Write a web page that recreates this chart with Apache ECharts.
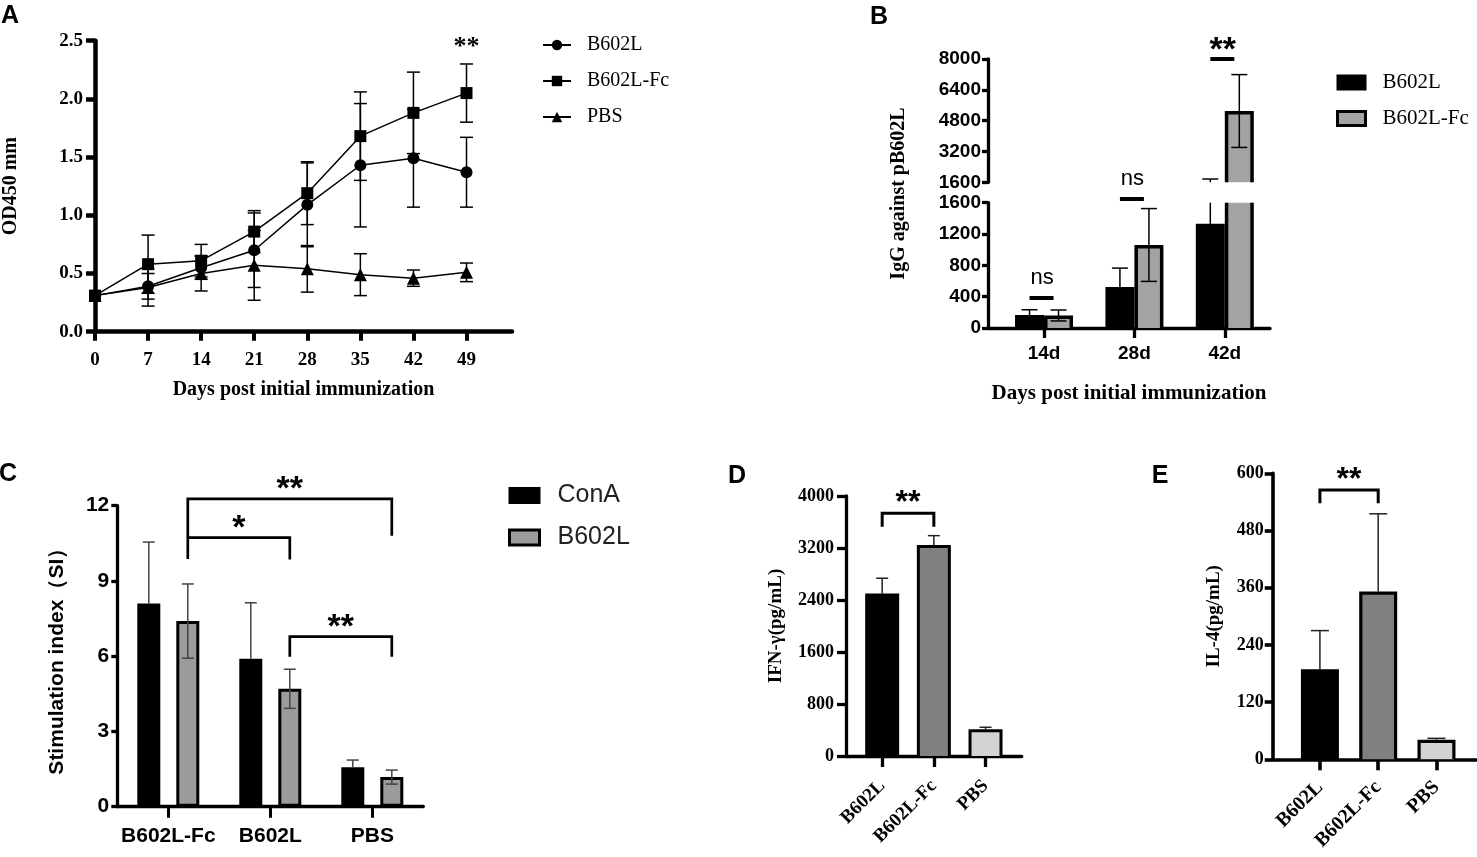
<!DOCTYPE html>
<html><head><meta charset="utf-8">
<script src="https://cdn.jsdelivr.net/npm/echarts@6/dist/echarts.min.js"></script>
<style>html,body{margin:0;padding:0;background:#fff}#c{width:1477px;height:857px}</style>
</head><body><div id="c"></div>
<script>
// ---------- Panel A data ----------
const daysA = [0, 7, 14, 21, 28, 35, 42, 49];
const aB602L = [0.31, 0.39, 0.55, 0.70, 1.09, 1.43, 1.49, 1.37];
const aB602LErr = [0, 0.11, 0.10, 0.32, 0.36, 0.53, 0.42, 0.30];
const aFc = [0.31, 0.58, 0.61, 0.86, 1.19, 1.68, 1.88, 2.05];
const aFcErr = [0, 0.25, 0.14, 0.18, 0.27, 0.38, 0.35, 0.25];
const aPBS = [0.31, 0.38, 0.50, 0.57, 0.54, 0.49, 0.46, 0.51];
const aPBSErr = [0, 0.16, 0.15, 0.30, 0.20, 0.18, 0.07, 0.08];
const aXTicks = [0, 7, 14, 21, 28, 35, 42, 49];
const aSig = { day: 49, y: 2.48, text: '**' };
// ---------- Panel B data ----------
const bCats = ['14d', '28d', '42d'];
const bB602L = [165, 525, 1330];
const bB602LErr = [68, 240, 440];
const bFc = [160, 1060, 5300];
const bFcErr = [70, 465, 1890];
const bSig = ['ns', 'ns', '**'];
const bSigY = [383, 1647, 8000];
const bSigPart = ['lower', 'lower', 'upper'];
// ---------- Panel C data ----------
const cCats = ['B602L-Fc', 'B602L', 'PBS'];
const cConA = [8.1, 5.9, 1.57];
const cConAErr = [2.45, 2.23, 0.29];
const cB602L = [7.4, 4.7, 1.18];
const cB602LErr = [1.48, 0.78, 0.28];
// brackets: [fromCat, toCat, y, yLeftEnd, yRightEnd, label]
const cBrackets = [[0, 2, 12.27, 9.88, 10.8, '**'], [0, 1, 10.73, 10.73, 9.86, '*'], [1, 2, 6.78, 5.98, 5.98, '**']];
// ---------- Panel D data ----------
const dCats = ['B602L', 'B602L-Fc', 'PBS'];
const dIFN = [2500, 3245, 410];
const dIFNErr = [235, 145, 32];
const dBrackets = [[0, 1, 3734, 3528, 3528, '**']];
// ---------- Panel E data ----------
const eCats = ['B602L', 'B602L-Fc', 'PBS'];
const eIL4 = [189, 352, 41];
const eIL4Err = [81, 163, 3];
const eBrackets = [[0, 1, 565, 537, 537, '**']];

// ---------- styles ----------
const SANS = "'Liberation Sans', Arial, Helvetica, sans-serif";
const SERIF = "'Liberation Serif', 'Times New Roman', Times, serif";
const groupColors = ['#000000', '#808080', '#d3d3d3'];
const bGray = '#a3a3a3';
const cGray = '#9b9b9b';
const plain = v => String(v);

const chart = echarts.init(document.getElementById('c'), null, { renderer: 'canvas', width: 1477, height: 857 });
const strip = n => n.split('|')[1];

function errRender(o) {
  return function (params, api) {
    const x = api.value(0), v = api.value(1), e = api.value(2);
    if (!(e > 0)) return null;
    const lo = o.upOnly ? v : v - e, hi = v + e;
    const mn = o.min, mx = o.max;
    if (mn != null && hi <= mn) return null;
    if (mx != null && lo >= mx) return null;
    const loC = mn != null ? Math.max(lo, mn) : lo;
    const hiC = mx != null ? Math.min(hi, mx) : hi;
    const pLo = api.coord([x, loC]), pHi = api.coord([x, hiC]);
    const cx = pLo[0] + (o.off || 0);
    const st = { stroke: o.color || '#000', lineWidth: o.lw };
    const ch = [{ type: 'line', shape: { x1: cx, y1: pLo[1], x2: cx, y2: pHi[1] }, style: st }];
    if (mx == null || hi <= mx) ch.push({ type: 'line', shape: { x1: cx - o.cap, y1: pHi[1], x2: cx + o.cap, y2: pHi[1] }, style: st });
    if (!o.upOnly && (mn == null || lo >= mn)) ch.push({ type: 'line', shape: { x1: cx - o.cap, y1: pLo[1], x2: cx + o.cap, y2: pLo[1] }, style: st });
    return { type: 'group', children: ch };
  };
}

function barRender(o) {
  return function (params, api) {
    const x = api.value(0), v = api.value(1);
    if (!(v > o.min)) return null;
    const clipped = v > o.max;
    const top = clipped ? o.max : v;
    const pB = api.coord([x, o.min]), pT = api.coord([x, top]);
    const cx = pB[0] + o.off;
    const h = o.lw / 2, xl = cx - o.w / 2 + h, xr = cx + o.w / 2 - h;
    const yb = pB[1], yt = clipped ? pT[1] : pT[1] + h;
    const fill = o.colors ? o.colors[params.dataIndex] : o.color;
    const st = { stroke: '#000', lineWidth: o.lw, fill: 'none' };
    const ch = [{ type: 'rect', shape: { x: xl, y: yt, width: xr - xl, height: yb - yt }, style: { fill: fill } }];
    if (clipped) {
      ch.push({ type: 'polyline', shape: { points: [[xl, yb], [xl, yt]] }, style: st });
      ch.push({ type: 'polyline', shape: { points: [[xr, yb], [xr, yt]] }, style: st });
    } else {
      ch.push({ type: 'polyline', shape: { points: [[xl, yb], [xl, yt], [xr, yt], [xr, yb]] }, style: st });
    }
    return { type: 'group', children: ch };
  };
}

function yAx(grid, min, max, interval, o) {
  return Object.assign({
    gridIndex: grid, type: 'value', min: min, max: max, interval: interval,
    axisLine: { show: true, onZero: false, lineStyle: { color: '#000', width: o.lw } },
    axisTick: { show: true, length: o.tick, lineStyle: { color: '#000', width: o.lw } },
    axisLabel: { margin: o.margin, color: '#000', fontFamily: o.ff, fontWeight: o.fw || 'bold', fontSize: o.fs, formatter: o.fmt || plain },
    splitLine: { show: false }
  }, o.extra || {});
}
function xValAx(grid, min, max, cats, o) {
  const tv = cats.map((c, i) => i);
  return Object.assign({
    gridIndex: grid, type: 'value', min: min, max: max,
    axisLine: { show: true, onZero: false, lineStyle: { color: '#000', width: o.lw } },
    axisTick: { show: true, customValues: tv, length: o.tick, lineStyle: { color: '#000', width: o.lw } },
    axisLabel: { customValues: tv, margin: o.margin, rotate: o.rotate || 0, color: '#000', fontFamily: o.ff, fontWeight: 'bold', fontSize: o.fs, formatter: v => cats[Math.round(v)] },
    splitLine: { show: false }
  }, o.extra || {});
}

const grids = [
  { left: 93.3, top: 40.7, width: 418.7, height: 291 },   // 0 A
  { left: 988, top: 59, width: 282, height: 123.3 },      // 1 B upper
  { left: 988, top: 202.7, width: 282, height: 125.3 },   // 2 B lower
  { left: 117.3, top: 505.7, width: 306, height: 301 },   // 3 C
  { left: 846, top: 496, width: 175.7, height: 260 },     // 4 D
  { left: 1272.7, top: 473.3, width: 204, height: 286 }   // 5 E
];

const titleSerif = { fontFamily: SERIF, fontWeight: 'bold', color: '#000' };

const xAxes = [
  {
    gridIndex: 0, type: 'value', min: 0, max: 55,
    axisLine: { show: true, onZero: false, lineStyle: { color: '#000', width: 4.5 } },
    axisTick: { show: true, customValues: aXTicks, length: 9, lineStyle: { color: '#000', width: 4 } },
    axisLabel: { customValues: aXTicks, margin: 19, color: '#000', fontFamily: SERIF, fontWeight: 'bold', fontSize: 19 },
    splitLine: { show: false },
    name: 'Days post initial immunization', nameLocation: 'middle', nameGap: 48,
    nameTextStyle: Object.assign({ fontSize: 20 }, titleSerif)
  },
  { gridIndex: 1, type: 'value', min: -0.62, max: 2.5, show: false },
  xValAx(2, -0.62, 2.5, bCats, { lw: 3.3, tick: 10, margin: 16, ff: SANS, fs: 19, extra: {
    name: 'Days post initial immunization', nameLocation: 'middle', nameGap: 55,
    nameTextStyle: Object.assign({ fontSize: 21 }, titleSerif) } }),
  {
    gridIndex: 3, type: 'category', data: cCats, boundaryGap: true,
    axisLine: { show: true, onZero: false, lineStyle: { color: '#000', width: 3.3 } },
    axisTick: { show: true, alignWithLabel: true, length: 11, lineStyle: { color: '#000', width: 3 } },
    axisLabel: { interval: 0, margin: 19, color: '#000', fontFamily: SANS, fontWeight: 'bold', fontSize: 21 }
  },
  xValAx(4, -0.7, 2.7, dCats, { lw: 3.3, tick: 11, margin: 27, rotate: 45, ff: SERIF, fs: 19 }),
  xValAx(5, -0.81, 2.69, eCats, { lw: 3.6, tick: 11, margin: 25, rotate: 45, ff: SERIF, fs: 20 })
];

const yAxes = [
  yAx(0, 0, 2.5, 0.5, { lw: 4.5, tick: 9, margin: 12, ff: SERIF, fs: 19, fmt: v => v.toFixed(1), extra: {
    name: 'OD450 mm', nameLocation: 'middle', nameRotate: 90, nameGap: 74,
    nameTextStyle: Object.assign({ fontSize: 20 }, titleSerif) } }),
  yAx(1, 1600, 8000, 1600, { lw: 3.3, tick: 6, margin: 7, ff: SANS, fs: 19 }),
  yAx(2, 0, 1600, 400, { lw: 3.3, tick: 6, margin: 7, ff: SANS, fs: 19 }),
  yAx(3, 0, 12, 3, { lw: 3.3, tick: 6, margin: 8, ff: SANS, fs: 21, extra: {
    name: 'Stimulation index（SI）', nameLocation: 'middle', nameRotate: 90, nameGap: 50,
    nameTextStyle: { fontFamily: SANS, fontWeight: 'bold', fontSize: 21, color: '#000' } } }),
  yAx(4, 0, 4000, 800, { lw: 3.3, tick: 9, margin: 12, ff: SERIF, fs: 18, extra: {
    name: 'IFN-γ(pg/mL)', nameLocation: 'middle', nameRotate: 90, nameGap: 60,
    nameTextStyle: Object.assign({ fontSize: 19 }, titleSerif) } }),
  yAx(5, 0, 600, 120, { lw: 3.6, tick: 8, margin: 9, ff: SERIF, fs: 18, extra: {
    name: 'IL-4(pg/mL)', nameLocation: 'middle', nameRotate: 90, nameGap: 49,
    nameTextStyle: Object.assign({ fontSize: 19 }, titleSerif) } })
];

const series = [];
// Panel A
const aSets = [
  ['A|B602L', aB602L, aB602LErr, 'circle', 12],
  ['A|B602L-Fc', aFc, aFcErr, 'rect', 12],
  ['A|PBS', aPBS, aPBSErr, 'triangle', 13]
];
aSets.forEach(s => {
  series.push({
    type: 'custom', xAxisIndex: 0, yAxisIndex: 0, z: 2,
    renderItem: errRender({ cap: 6.5, lw: 1.5 }),
    data: daysA.map((d, i) => [d, s[1][i], s[2][i]])
  });
});
aSets.forEach(s => {
  series.push({
    name: s[0], type: 'line', xAxisIndex: 0, yAxisIndex: 0, z: 3,
    symbol: s[3], symbolSize: s[4], showSymbol: true,
    lineStyle: { color: '#000', width: 1.5 }, itemStyle: { color: '#000' },
    data: daysA.map((d, i) => [d, s[1][i]])
  });
});
// Panel B (broken axis: upper grid 1, lower grid 2)
[[1, 1600, 8000], [2, 0, 1600]].forEach(g => {
  const [gi, mn, mx] = g;
  series.push({
    name: 'B|B602L', type: 'custom', xAxisIndex: gi, yAxisIndex: gi, z: 2, itemStyle: { color: '#000' },
    renderItem: barRender({ w: 29, lw: 3.5, off: -14.5, min: mn, max: mx, color: '#000' }),
    data: bCats.map((c, i) => [i, bB602L[i]])
  });
  series.push({
    name: 'B|B602L-Fc', type: 'custom', xAxisIndex: gi, yAxisIndex: gi, z: 2, itemStyle: { color: bGray },
    renderItem: barRender({ w: 29, lw: 3.5, off: 14.5, min: mn, max: mx, color: bGray }),
    data: bCats.map((c, i) => [i, bFc[i]])
  });
  series.push({
    type: 'custom', xAxisIndex: gi, yAxisIndex: gi, z: 3,
    renderItem: errRender({ cap: 8, lw: 1.5, off: -14.5, min: mn, max: mx }),
    data: bCats.map((c, i) => [i, bB602L[i], bB602LErr[i]])
  });
  series.push({
    type: 'custom', xAxisIndex: gi, yAxisIndex: gi, z: 3,
    renderItem: errRender({ cap: 8, lw: 1.5, off: 14.5, min: mn, max: mx }),
    data: bCats.map((c, i) => [i, bFc[i], bFcErr[i]])
  });
});
// Panel C
series.push({
  name: 'C|ConA', type: 'bar', xAxisIndex: 3, yAxisIndex: 3, barWidth: 23, barGap: '69.6%', z: 2,
  itemStyle: { color: '#000', borderColor: '#000', borderWidth: 3 }, data: cConA
});
series.push({
  name: 'C|B602L', type: 'bar', xAxisIndex: 3, yAxisIndex: 3, barWidth: 23, barGap: '69.6%', z: 2,
  itemStyle: { color: cGray, borderColor: '#000', borderWidth: 3 }, data: cB602L
});
series.push({
  type: 'custom', xAxisIndex: 3, yAxisIndex: 3, z: 3,
  renderItem: errRender({ cap: 6, lw: 1.5, off: -19.5, upOnly: true, color: '#444' }),
  data: cCats.map((c, i) => [i, cConA[i], cConAErr[i]])
});
series.push({
  type: 'custom', xAxisIndex: 3, yAxisIndex: 3, z: 3,
  renderItem: errRender({ cap: 6, lw: 1.5, off: 19.5, color: '#444' }),
  data: cCats.map((c, i) => [i, cB602L[i], cB602LErr[i]])
});
// Panel D
series.push({
  name: 'IFN-γ', type: 'custom', xAxisIndex: 4, yAxisIndex: 4, z: 2,
  renderItem: barRender({ w: 34, lw: 3, off: 0, min: 0, max: 4000, colors: groupColors }),
  data: dCats.map((c, i) => [i, dIFN[i]])
});
series.push({
  type: 'custom', xAxisIndex: 4, yAxisIndex: 4, z: 1,
  renderItem: errRender({ cap: 6, lw: 1.5, upOnly: true, color: '#222' }),
  data: dCats.map((c, i) => [i, dIFN[i], dIFNErr[i]])
});
// Panel E
series.push({
  name: 'IL-4', type: 'custom', xAxisIndex: 5, yAxisIndex: 5, z: 2,
  renderItem: barRender({ w: 38, lw: 3.2, off: 0, min: 0, max: 600, colors: groupColors }),
  data: eCats.map((c, i) => [i, eIL4[i]])
});
series.push({
  type: 'custom', xAxisIndex: 5, yAxisIndex: 5, z: 1,
  renderItem: errRender({ cap: 9, lw: 1.5, upOnly: true, color: '#222' }),
  data: eCats.map((c, i) => [i, eIL4[i], eIL4Err[i]])
});

const legends = [
  {
    left: 537, top: 30, orient: 'vertical', itemWidth: 28, itemHeight: 13, itemGap: 16,
    data: ['A|B602L', 'A|B602L-Fc', 'A|PBS'], formatter: strip, selectedMode: false,
    textStyle: { fontFamily: SERIF, fontSize: 20, color: '#000', lineHeight: 20, padding: [0, 0, 0, 11] }
  },
  {
    left: 1331, top: 67, orient: 'vertical', itemWidth: 28, itemHeight: 14, itemGap: 15,
    selectedMode: false, formatter: strip,
    data: [
      { name: 'B|B602L', icon: 'rect', itemStyle: { color: '#000', borderColor: '#000', borderWidth: 2 } },
      { name: 'B|B602L-Fc', icon: 'rect', itemStyle: { color: bGray, borderColor: '#000', borderWidth: 3 } }
    ],
    textStyle: { fontFamily: SERIF, fontSize: 21, color: '#000', lineHeight: 20, padding: [0, 0, 0, 12] }
  },
  {
    left: 503, top: 478, orient: 'vertical', itemWidth: 30, itemHeight: 15, itemGap: 17,
    selectedMode: false, formatter: strip,
    data: [
      { name: 'C|ConA', icon: 'rect', itemStyle: { color: '#000', borderColor: '#000', borderWidth: 2 } },
      { name: 'C|B602L', icon: 'rect', itemStyle: { color: cGray, borderColor: '#000', borderWidth: 3 } }
    ],
    textStyle: { fontFamily: SANS, fontSize: 25, color: '#222', lineHeight: 25, padding: [0, 0, 0, 13] }
  }
];

chart.setOption({
  animation: false,
  backgroundColor: '#fff',
  grid: grids,
  xAxis: xAxes,
  yAxis: yAxes,
  legend: legends,
  series: series
});

// ---------- annotations (positioned through the axes' scales) ----------
const px = (g, p) => chart.convertToPixel({ gridIndex: g }, p);
const gfx = [];
function txt(x, y, t, size, ff, fw, rot) {
  gfx.push({ type: 'text', x: x, y: y, rotation: rot || 0, z: 100,
    style: { text: t, fill: '#000', fontSize: size, fontFamily: ff, fontWeight: fw, align: 'center', verticalAlign: 'middle' } });
}
function sigText(x, inkY, t, size, ff) {
  const k = t.indexOf('*') >= 0 ? (ff === SERIF ? 0.18 : 0.23) : -0.09;
  txt(x, inkY + k * size, t, size, ff, t.indexOf('*') >= 0 ? 'bold' : 'normal');
}
function line(x1, y1, x2, y2, w) {
  gfx.push({ type: 'line', z: 100, shape: { x1: x1, y1: y1, x2: x2, y2: y2 }, style: { stroke: '#000', lineWidth: w } });
}
function brackets(g, list, off, lw, fs) {
  list.forEach(b => {
    const pL = px(g, [b[0], b[2]]), pR = px(g, [b[1], b[2]]);
    const yL = px(g, [b[0], b[3]])[1], yR = px(g, [b[1], b[4]])[1];
    const xl = pL[0] + off, xr = pR[0] + off, y = pL[1];
    gfx.push({ type: 'polyline', z: 100, shape: { points: [[xl, yL], [xl, y], [xr, y], [xr, yR]] },
      style: { stroke: '#000', lineWidth: lw, fill: 'none' } });
    sigText((xl + xr) / 2, y - 17, b[5], fs, SANS);
  });
}
// panel letters
[['A', 10, 16], ['B', 879, 17], ['C', 8, 474], ['D', 737, 476], ['E', 1160, 476]].forEach(l => txt(l[1], l[2], l[0], 25, SANS, 'bold'));
// A significance
const pa = px(0, [aSig.day, aSig.y]);
sigText(pa[0], pa[1], aSig.text, 26, SERIF);
// B significance
bSig.forEach((t, i) => {
  const g = bSigPart[i] === 'upper' ? 1 : 2;
  const p = px(g, [i, bSigY[i]]);
  line(p[0] - 14.5, p[1], p[0] + 9.5, p[1], 4);
  sigText(p[0] - 2, p[1] - (t === 'ns' ? 18 : 16), t, t === 'ns' ? 22 : 34, SANS);
});
// B y-axis title spanning both parts
const bTop = px(1, [0, 8000])[1], bBot = px(2, [0, 0])[1];
txt(899, (bTop + bBot) / 2, 'IgG against pB602L', 20, SERIF, 'bold', Math.PI / 2);
// C, D, E brackets
brackets(3, cBrackets, 19.5, 2.7, 34);
brackets(4, dBrackets, 0, 3, 32);
brackets(5, eBrackets, 0, 3, 32);

chart.setOption({ graphic: gfx });
</script>
</body></html>
